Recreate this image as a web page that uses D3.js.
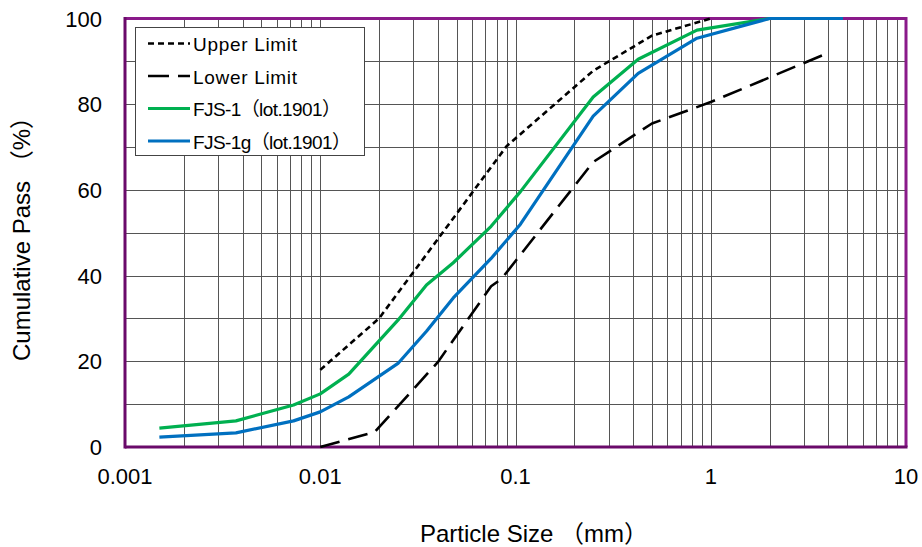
<!DOCTYPE html>
<html>
<head>
<meta charset="utf-8">
<script src="https://cdn.jsdelivr.net/npm/d3@7"></script>
<style>
body { margin: 0; background: #fff; }
text { font-family: "Liberation Sans", Arial, "Noto Sans CJK JP", sans-serif; fill: #000; }
</style>
</head>
<body>
<script>
// particle size (mm) and cumulative pass (%)
var upperSize = [0.01, 0.02, 0.04, 0.09, 0.25, 0.5, 1];
var upperPass = [18, 30, 48.5, 70.2, 87.8, 96, 100];

var lowerSize = [0.01, 0.019, 0.04, 0.075, 0.085, 0.25, 0.5, 1, 4];
var lowerPass = [0, 3.5, 19.8, 37.5, 39.3, 66.5, 75.5, 80.5, 92];

var fjsSize = [0.0015, 0.0037, 0.0073, 0.01, 0.014, 0.025, 0.035, 0.048, 0.075, 0.106, 0.25, 0.425, 0.85, 2, 4.75];
var fjs1Pass = [4.4, 6.1, 9.8, 12.4, 17, 29.6, 37.8, 43, 51.5, 59.6, 81.7, 90.5, 97.3, 100, 100];
var fjs1gPass = [2.3, 3.3, 6.1, 8.2, 11.7, 19.5, 27, 34.8, 44, 52, 77.2, 87.2, 95.4, 100, 100];

var xTicks = [0.001, 0.01, 0.1, 1, 10];
var yTicks = [0, 20, 40, 60, 80, 100];

var width = 922, height = 547;
// plot area edges (note: "top" is reserved on window, so use other names)
var pLeft = 125, pRight = 906, pTop = 18.5, pBottom = 447;

var svg = d3.select('body').append('svg')
  .attr('width', width).attr('height', height);

var x = d3.scaleLog().domain([0.001, 10]).range([pLeft, pRight]);
var y = d3.scaleLinear().domain([0, 100]).range([pBottom, pTop]);

// grid lines
var xGrid = [];
for (var d = 0.001; d < 9; d *= 10) {
  for (var k = 1; k <= 9; k++) xGrid.push(d * k);
}
svg.append('g').selectAll('line').data(xGrid).enter().append('line')
  .attr('x1', function(v) { return Math.round(x(v)) + 0.5; })
  .attr('x2', function(v) { return Math.round(x(v)) + 0.5; })
  .attr('y1', pTop).attr('y2', pBottom)
  .attr('stroke', '#555').attr('stroke-width', 1);

svg.append('g').selectAll('line').data(d3.range(10, 100, 10)).enter().append('line')
  .attr('x1', pLeft).attr('x2', pRight)
  .attr('y1', function(v) { return Math.round(y(v)) + 0.5; })
  .attr('y2', function(v) { return Math.round(y(v)) + 0.5; })
  .attr('stroke', '#555').attr('stroke-width', 1);

// plot border
svg.append('line').attr('x1', pLeft).attr('x2', pRight).attr('y1', pTop).attr('y2', pTop)
  .attr('stroke', '#8a1a8a').attr('stroke-width', 3);
svg.append('line').attr('x1', pRight).attr('x2', pRight).attr('y1', pTop - 1.5).attr('y2', pBottom)
  .attr('stroke', '#8a1a8a').attr('stroke-width', 3);
svg.append('line').attr('x1', pLeft).attr('x2', pRight + 1.5).attr('y1', pBottom).attr('y2', pBottom)
  .attr('stroke', '#6a0a6a').attr('stroke-width', 3);
svg.append('line').attr('x1', pLeft).attr('x2', pLeft).attr('y1', pTop - 1.5).attr('y2', pBottom + 1.5)
  .attr('stroke', '#6a0a6a').attr('stroke-width', 3);

// series (drawn over the border, as in the original)
function series(sizes, pass, color, dash) {
  var pts = sizes.map(function(s, i) { return [s, pass[i]]; });
  var line = d3.line().x(function(p) { return x(p[0]); }).y(function(p) { return y(p[1]); });
  svg.append('path').datum(pts)
    .attr('d', line)
    .attr('fill', 'none')
    .attr('stroke', color)
    .attr('stroke-width', dash ? 2.6 : 3.2)
    .attr('stroke-dasharray', dash || null)
    .attr('stroke-linejoin', 'round');
}
series(lowerSize, lowerPass, '#000', '20,9');
series(upperSize, upperPass, '#000', '6,4');
series(fjsSize, fjs1Pass, '#00b050');
series(fjsSize, fjs1gPass, '#0070c0');

// tick labels
svg.append('g').selectAll('text').data(yTicks).enter().append('text')
  .attr('x', 102).attr('y', function(v) { return y(v) + 8; })
  .attr('text-anchor', 'end').style('font-size', '22px')
  .text(function(v) { return v; });

svg.append('g').selectAll('text').data(xTicks).enter().append('text')
  .attr('x', function(v) { return x(v); }).attr('y', 484)
  .attr('text-anchor', 'middle').style('font-size', '22px')
  .text(function(v) { return String(v); });

// axis titles
svg.append('text').attr('x', 534).attr('y', 542)
  .attr('text-anchor', 'middle').style('font-size', '24px')
  .text('Particle Size （mm）');

svg.append('text').attr('transform', 'translate(30,233) rotate(-90)')
  .attr('text-anchor', 'middle').style('font-size', '24px')
  .text('Cumulative Pass （%）');

// legend
var legend = svg.append('g');
legend.append('rect').attr('x', 135.5).attr('y', 27.5).attr('width', 229).attr('height', 128)
  .attr('fill', '#fff').attr('stroke', '#444').attr('stroke-width', 1);

var legendNames = ['Upper Limit', 'Lower Limit', 'FJS-1（lot.1901）', 'FJS-1g（lot.1901）'];
var legendColors = ['#000', '#000', '#00b050', '#0070c0'];
var legendDash = ['6,4', '21,9', null, null];
var legendTextLen = [104, 104, 148, 158];

legend.selectAll('line').data(legendNames).enter().append('line')
  .attr('x1', 148).attr('x2', 190)
  .attr('y1', function(d, i) { return 43.5 + i * 32.5; })
  .attr('y2', function(d, i) { return 43.5 + i * 32.5; })
  .attr('stroke', function(d, i) { return legendColors[i]; })
  .attr('stroke-width', function(d, i) { return legendDash[i] ? 2.6 : 3.2; })
  .attr('stroke-dasharray', function(d, i) { return legendDash[i]; });

legend.selectAll('text').data(legendNames).enter().append('text')
  .attr('x', 193)
  .attr('y', function(d, i) { return 51 + i * 32.5; })
  .attr('textLength', function(d, i) { return legendTextLen[i]; })
  .attr('lengthAdjust', 'spacing')
  .style('font-size', '19px')
  .text(function(d) { return d; });
</script>
</body>
</html>
